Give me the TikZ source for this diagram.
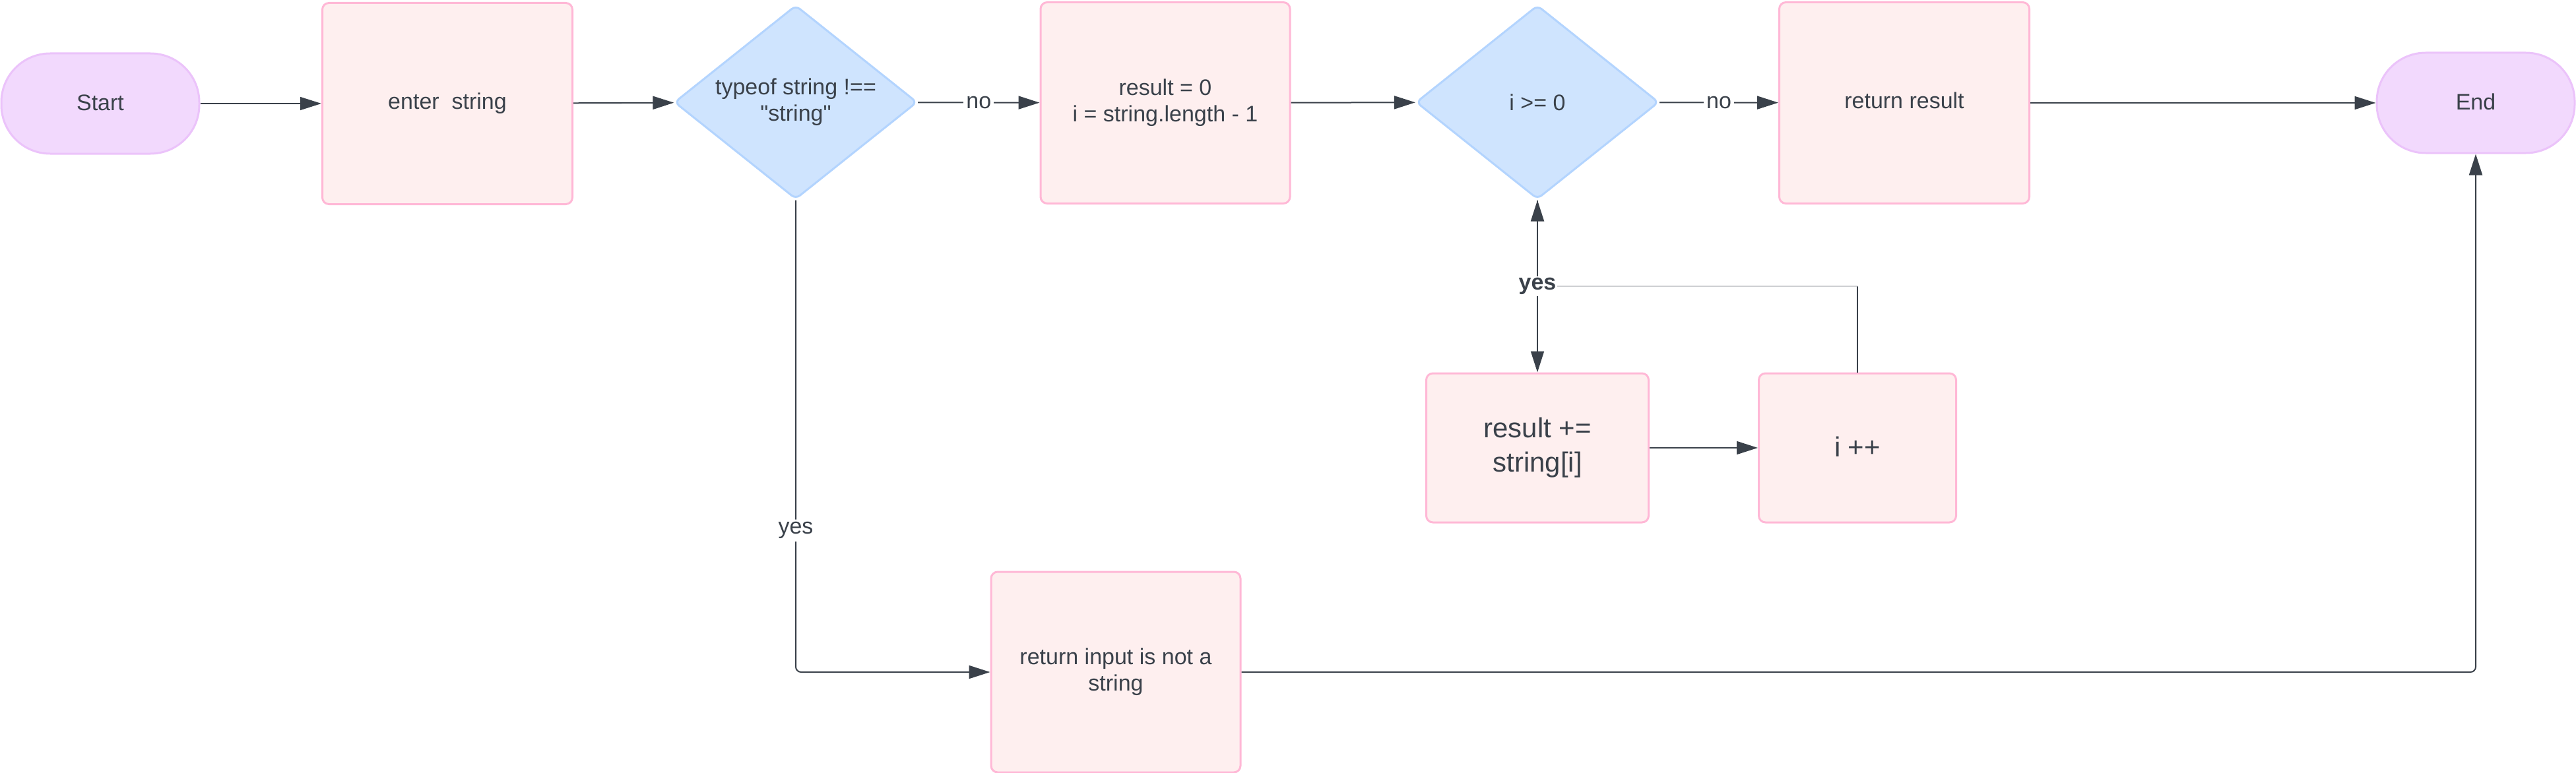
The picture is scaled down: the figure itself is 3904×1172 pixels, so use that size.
\documentclass[tikz,border=0pt]{standalone}
\usepackage{fontspec}
\setmainfont{Liberation Sans}[Ligatures=TeXOff]
\usetikzlibrary{shapes.geometric,arrows.meta,calc}
\definecolor{ink}{HTML}{3A414A}
\definecolor{pinkfill}{HTML}{FEEFEF}
\definecolor{pinkline}{HTML}{FFB8D6}
\definecolor{purpfill}{HTML}{F2D9FD}
\definecolor{purpline}{HTML}{EBC3FA}
\definecolor{bluefill}{HTML}{CFE4FE}
\definecolor{blueline}{HTML}{B3D4FE}
\tikzset{
  proc/.style={draw=pinkline, fill=pinkfill, line width=1.5pt, rounded corners=5pt, align=center, inner sep=0pt, text=ink},
  term/.style={draw=purpline, fill=purpfill, line width=1.5pt, rounded corners=37pt, align=center, inner sep=0pt, text=ink, minimum width=150pt, minimum height=76pt},
  dec/.style={diamond, draw=blueline, fill=bluefill, line width=1.5pt, rounded corners=4pt, align=center, inner sep=0pt, shape aspect=1.25, text=ink, minimum width=184pt, minimum height=147pt},
  conn/.style={draw=ink, line width=1pt, -{Triangle[length=16pt,width=10pt]}},
  lab/.style={fill=white, inner sep=2pt, text=ink},
  bigtxt/.style={font=\fontsize{21}{26}\selectfont}
}
\begin{document}
\begin{tikzpicture}[x=0.5pt,y=-0.5pt, font=\fontsize{17}{20}\selectfont]
\useasboundingbox (0,0) rectangle (3904,1172);

\node[term] (start) at (152,157) {\raisebox{1.5pt}{Start}};
\node[proc, minimum width=189.5pt, minimum height=152.5pt] (enter) at (678,157) {\raisebox{3pt}{enter~ string}};
\node[dec] (d1) at (1206,155) {typeof string !==\\"string"};
\node[proc, minimum width=189pt, minimum height=152.5pt] (r1) at (1766,156) {result = 0\\i = string.length - 1};
\node[dec] (d2) at (2330,155) {i >= 0};
\node[proc, minimum width=189.5pt, minimum height=152.5pt] (ret) at (2886,156) {\raisebox{4pt}{return result}};
\node[term] (endn) at (3752,156) {\raisebox{2pt}{End}};
\node[proc, bigtxt, minimum width=168.5pt, minimum height=113pt] (radd) at (2330,679) {result +=\\string[i]};
\node[proc, bigtxt, minimum width=149.5pt, minimum height=113pt] (inc) at (2815,679) {\raisebox{2pt}{i ++}};
\node[proc, minimum width=189pt, minimum height=152pt] (retin) at (1691,1019) {return input is not a\\string};

\draw[conn, line width=0.7pt] (start) -- (enter);
\draw[conn] (enter) -- (d1);
\draw[conn] (d1) -- node[lab]{no} (r1);
\draw[conn] (r1) -- (d2);
\draw[conn] (d2) -- node[lab]{no} (ret);
\draw[conn] (ret) -- (endn);

\coordinate (yc) at ($(d2.south)!0.5!(radd.north)$);
\draw[draw=ink, line width=1pt] (inc.north) -- (inc.north |- yc);
\draw[draw=ink!25, line width=0.6pt] (inc.north |- yc) -- (yc);
\draw[conn] (yc) -- (d2.south);
\draw[conn] (d2.south) -- node[lab, inner sep=1pt, font=\fontsize{17}{20}\selectfont\bfseries]{yes} (radd.north);
\draw[conn] (radd) -- (inc);

\draw[conn, rounded corners=4pt] (d1.south) |- node[lab, pos=0.35]{yes} (retin.west);
\draw[conn, rounded corners=4pt] (retin.east) -| (endn.south);
\end{tikzpicture}
\end{document}
